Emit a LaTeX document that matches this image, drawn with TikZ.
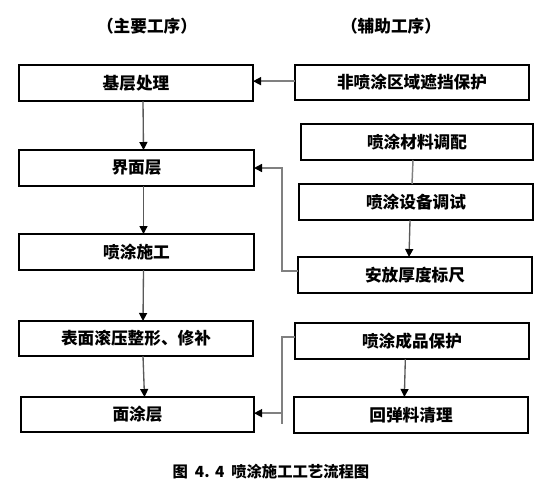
\documentclass[tikz,border=0pt]{standalone}
\usepackage{fontspec}
\setmainfont{Noto Sans CJK SC}
\usetikzlibrary{arrows.meta}
\begin{document}
\begin{tikzpicture}[x=0.75pt,y=-0.75pt,
  box/.style={draw=black,line width=1.1pt,inner sep=0pt,outer sep=0pt,font=\fontsize{12.5}{15}\selectfont\bfseries},
  conn/.style={draw=black!50,line width=1.1pt},
  vconn/.style={draw=black!65,line width=1pt},
  arr/.style={-{Triangle[length=6pt,width=6pt,color=black]}},
  lbl/.style={font=\fontsize{12.5}{15}\selectfont\bfseries,inner sep=0pt}]
\useasboundingbox (0,0) rectangle (549,501);
\newcommand{\bx}[6]{\node[box,minimum width={(#4-#2)*0.75pt},minimum height={(#5-#3)*0.75pt}] (#1) at ({(#2+#4)/2},{(#3+#5)/2}) {#6};}
\node[lbl] (t1) at (147,26) {（主要工序）};
\node[lbl] (t2) at (391,26) {（辅助工序）};
\bx{l1}{19}{65}{253}{101}{基层处理}
\bx{l2}{19}{150}{254}{186}{界面层}
\bx{l3}{19}{234}{254}{270}{喷涂施工}
\bx{l4}{19}{321}{253}{356}{表面滚压整形、修补}
\bx{l5}{21}{397}{254}{432}{面涂层}
\bx{r1}{295}{65}{529}{100}{非喷涂区域遮挡保护}
\bx{r2}{301}{124}{533}{160}{喷涂材料调配}
\bx{r3}{299}{184}{533}{220}{喷涂设备调试}
\bx{r4}{298}{257}{532}{293}{安放厚度标尺}
\bx{r5}{295}{323}{529}{359}{喷涂成品保护}
\bx{r6}{294}{397}{528}{433}{回弹料清理}
\node[lbl,font=\fontsize{11.5}{14}\selectfont\bfseries] (cap) at (271,472) {图\hspace{0.45em}4.\hspace{0.35em}4\hspace{0.45em}喷涂施工工艺流程图};
% main column
\draw[vconn,arr] ([xshift=5.25pt]l1.south) -- ([xshift=5.25pt]l2.north);
\draw[vconn,arr] ([xshift=5.25pt]l2.south) -- ([xshift=5.25pt]l3.north);
\draw[vconn,arr] ([xshift=5.25pt]l3.south) -- ([xshift=5.25pt]l4.north);
\draw[vconn,arr] ([xshift=5.25pt]l4.south) -- ([xshift=5.25pt]l5.north);
% auxiliary column
\draw[conn,arr] ([yshift=1pt]r1.west) -- ([yshift=1pt]r1.west -| l1.east);
\draw[conn] ([xshift=-3pt]r2.south) -- ([xshift=-3pt]r3.north);
\draw[vconn,arr] ([xshift=-4.5pt]r3.south) -- ([xshift=-4.5pt]r4.north);
\draw[vconn,arr] ([xshift=-5pt]r5.south) -- ([xshift=-5pt]r6.north);
\coordinate (j1) at (282,0);
\coordinate (j2) at (282,424);
\draw[conn,arr] ([yshift=3pt]r4.west) -- ([yshift=3pt]r4.west -| j1) |- (l2.east);
\draw[conn] ([yshift=3pt]r5.west) -- ([yshift=3pt]r5.west -| j1) -- (j2);
\draw[conn,arr] ([yshift=1pt]l5.east -| j1) -- ([yshift=1pt]l5.east);
\end{tikzpicture}
\end{document}
